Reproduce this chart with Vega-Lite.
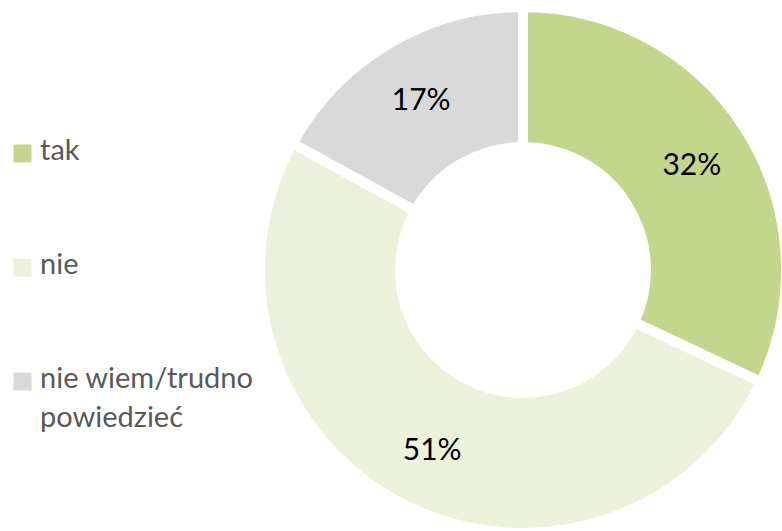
{
  "$schema": "https://vega.github.io/schema/vega-lite/v6.json",
  "autosize": {"type": "none"},
  "padding": {"left": 265, "top": 12, "right": 1, "bottom": 3},
  "width": 516,
  "height": 516,
  "background": "white",
  "config": {
    "view": {"stroke": null},
    "font": "Lato",
    "style": {"guide-label": {"dy": -17, "lineHeight": 39}}
  },
  "data": {
    "values": [
      {"odp": "tak", "pct": 32, "ord": 1, "lab": "32%"},
      {"odp": "nie", "pct": 51, "ord": 2, "lab": "51%"},
      {"odp": "nie wiem/trudno powiedzieć", "pct": 17, "ord": 3, "lab": "17%"}
    ]
  },
  "encoding": {
    "theta": {"field": "pct", "type": "quantitative", "stack": true},
    "order": {"field": "ord", "type": "quantitative"}
  },
  "layer": [
    {
      "mark": {"type": "arc", "outerRadius": 263, "innerRadius": 123, "stroke": "white", "strokeWidth": 10},
      "encoding": {
        "color": {
          "field": "odp", "type": "nominal",
          "scale": {"domain": ["tak", "nie", "nie wiem/trudno powiedzieć"], "range": ["#C4D58C", "#EBF1DA", "#D9D9D9"]},
          "legend": {
            "title": null,
            "orient": "none",
            "legendX": -257,
            "legendY": 127,
            "direction": "vertical",
            "symbolType": "square",
            "symbolSize": 324,
            "symbolStrokeWidth": 0,
            "labelFont": "Lato",
            "labelFontSize": 29,
            "labelColor": "#595959",
            "labelLimit": 400,
            "labelOffset": 3,
            "labelBaseline": "top",
            "rowPadding": 84,
            "labelExpr": "datum.label == 'nie wiem/trudno powiedzieć' ? ['nie wiem/trudno', 'powiedzieć'] : datum.label"
          }
        }
      }
    },
    {
      "mark": {"type": "text", "radius": 200, "dy": 3, "fontSize": 30, "font": "Lato", "color": "#000000"},
      "encoding": {"text": {"field": "lab"}}
    }
  ]
}
